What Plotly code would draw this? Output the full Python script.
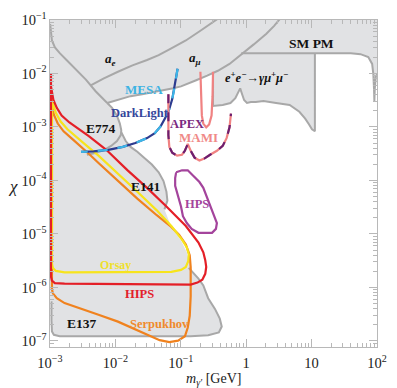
import numpy as np
import plotly.graph_objects as go

# ---------------- data: dark photon mass m [GeV] and kinetic mixing chi ----------------
# gray excluded regions (boundaries)
lineA_m = [1.005e-3, 1.035e-3, 1.07e-3, 1.19e-3, 1.41e-3, 1.79e-3, 2.52e-3, 3.54e-3, 4.98e-3, 6.33e-3, 7.5e-3]
lineA_chi = [8.45e-2, 5.55e-2, 4.14e-2, 3.08e-2, 2.40e-2, 1.79e-2, 1.17e-2, 7.7e-3, 4.66e-3, 3.47e-3, 2.81e-3]

e774_m = [7.5e-3, 8.9e-3, 1.056e-2, 1.17e-2, 1.23e-2, 1.21e-2, 1.056e-2, 8.6e-3, 6.78e-3, 5.15e-3, 3.66e-3]
e774_chi = [2.81e-3, 2.28e-3, 1.63e-3, 1.16e-3, 8.67e-4, 7.03e-4, 5.46e-4, 4.43e-4, 3.74e-4, 3.30e-4, 3.03e-4]

e141_m = [1.23e-2, 1.437e-2, 1.704e-2, 2.164e-2, 2.749e-2, 3.61e-2, 4.59e-2, 5.44e-2, 6.03e-2, 6.24e-2, 5.63e-2]
e141_chi = [7.97e-4, 5.46e-4, 4.24e-4, 3.44e-4, 2.67e-4, 1.99e-4, 1.42e-4, 9.75e-5, 6.14e-5, 4.21e-5, 2.88e-5]
e141_low_m = [7.16e-2, 0.1007, 0.1236, 0.1369]
e141_low_chi = [1.353e-5, 7.52e-6, 4.54e-6, 2.74e-6]

e137_m = [0.1323, 0.1517, 0.1862, 0.2209, 0.2620, 0.3329, 0.3948, 0.4228, 0.3816, 0.2620, 0.1416,
          1.407e-3, 1.146e-3, 1.071e-3, 1.053e-3, 1.053e-3]
e137_chi = [2.32e-6, 1.96e-6, 1.46e-6, 1.088e-6, 6.30e-7, 3.97e-7, 2.61e-7, 1.862e-7, 1.447e-7, 1.276e-7, 1.224e-7,
            1.224e-7, 1.303e-7, 1.51e-7, 2.40e-7, 5.55e-7]

amu_m = [7.5e-3, 1.093e-2, 1.704e-2, 2.567e-2, 3.87e-2, 5.63e-2, 7.66e-2, 0.1007, 0.1323, 0.1681, 0.2533,
         0.3688, 0.5556, 0.8663, 1.305, 2.035, 2.675, 3.28]
amu_chi = [2.81e-3, 3.19e-3, 3.77e-3, 4.10e-3, 4.46e-3, 4.86e-3, 5.28e-3, 5.74e-3, 6.51e-3, 7.39e-3, 9.12e-3,
           1.125e-2, 1.51e-2, 2.30e-2, 3.50e-2, 5.55e-2, 7.77e-2, 0.105]

ae_m = [4.196e-3, 6.55e-3, 1.093e-2, 1.824e-2, 3.05e-2, 4.59e-2, 7.16e-2, 0.1194, 0.1994, 0.3563, 0.3816]
ae_chi = [5.99e-3, 8.04e-3, 1.078e-2, 1.417e-2, 1.79e-2, 2.20e-2, 2.96e-2, 4.14e-2, 6.30e-2, 0.1, 0.1088]

babar_m = [0.311, 0.311, 0.4375, 0.575, 0.682, 0.755, 0.809, 0.866, 0.928, 1.028, 1.178, 1.398, 1.837,
           2.864, 4.62, 6.50, 7.98, 9.15, 10.14, 11.23, 11.23]
babar_chi = [1.034e-2, 2.48e-3, 2.585e-3, 2.81e-3, 3.47e-3, 4.46e-3, 5.28e-3, 4.10e-3, 3.19e-3, 2.81e-3,
             2.93e-3, 2.93e-3, 3.06e-3, 2.81e-3, 2.585e-3, 1.926e-3, 1.435e-3, 1.115e-3, 9.04e-4, 8.31e-4, 2.40e-2]

smpm_m = [0.84, 11.23, 39.8, 56.0, 73.5, 84.3, 88.0, 90.0, 91.2, 92.5, 96.0, 104.0]
smpm_chi = [2.40e-2, 2.40e-2, 2.40e-2, 2.30e-2, 2.03e-2, 1.51e-2, 9.51e-3, 5.28e-3, 3.06e-3, 5.28e-3, 8.74e-3, 1.034e-2]

# coloured projections / limits
hips_m = [1.035e-3, 1.035e-3, 1.071e-3, 1.186e-3, 1.669e-3, 1.538e-2, 0.1416, 0.1799, 0.2135, 0.2365, 0.2447,
          0.2365, 0.2209, 0.1862, 0.1194, 6.03e-2, 3.05e-2, 1.538e-2, 7.25e-3, 3.92e-3, 2.79e-3, 1.98e-3,
          1.507e-3, 1.27e-3, 1.127e-3, 1.071e-3, 1.035e-3]
hips_chi = [9.92e-3, 1.589e-6, 1.343e-6, 1.208e-6, 1.183e-6, 1.158e-6, 1.134e-6, 1.233e-6, 1.40e-6, 1.80e-6,
            2.416e-6, 3.24e-6, 4.54e-6, 6.91e-6, 1.411e-5, 3.27e-5, 7.27e-5, 1.548e-4, 3.74e-4, 6.74e-4,
            9.04e-4, 1.213e-3, 1.63e-3, 2.28e-3, 3.19e-3, 4.46e-3, 5.74e-3]

orsay_m = [1.071e-3, 1.071e-3, 1.108e-3, 1.227e-3, 1.669e-3, 1.538e-2, 7.16e-2, 0.1007, 0.1194, 0.1300, 0.1323,
           0.1236, 0.1042, 7.16e-2, 4.29e-2, 2.164e-2, 1.093e-2, 5.52e-3, 3.66e-3, 2.516e-3, 1.85e-3, 1.456e-3,
           1.227e-3, 1.127e-3, 1.071e-3]
orsay_chi = [3.47e-3, 2.74e-6, 2.32e-6, 2.04e-6, 1.918e-6, 1.918e-6, 1.96e-6, 2.131e-6, 2.416e-6, 3.11e-6,
             4.17e-6, 5.60e-6, 7.84e-6, 1.411e-5, 2.764e-5, 6.14e-5, 1.365e-4, 2.907e-4, 4.43e-4, 6.46e-4,
             9.04e-4, 1.265e-3, 1.846e-3, 2.585e-3, 3.47e-3]

serp_m = [1.071e-3, 1.146e-3, 1.314e-3, 1.613e-3, 2.12e-3, 2.79e-3, 3.92e-3, 5.52e-3, 1.093e-2, 2.164e-2,
          4.29e-2, 7.16e-2, 9.40e-2, 0.1194, 0.1369, 0.1416, 0.1416, 0.1369, 0.1278, 0.1156, 9.09e-2, 6.68e-2,
          4.75e-2, 2.40e-2, 1.093e-2, 5.52e-3, 3.09e-3, 1.669e-3, 1.27e-3, 1.108e-3, 1.071e-3, 1.071e-3]
serp_chi = [2.48e-3, 1.698e-3, 1.16e-3, 8.31e-4, 6.19e-4, 4.62e-4, 3.16e-4, 2.12e-4, 9.75e-5, 4.58e-5,
            2.24e-5, 1.353e-5, 9.67e-6, 6.35e-6, 4.00e-6, 2.416e-6, 6.85e-7, 2.957e-7, 1.786e-7, 1.224e-7,
            1.013e-7, 9.51e-8, 1.034e-7, 1.51e-7, 2.298e-7, 3.08e-7, 3.97e-7, 5.11e-7, 6.30e-7, 7.77e-7,
            9.19e-7, 2.48e-3]

darklight_m = [2.984e-3, 4.65e-3, 7.77e-3, 1.297e-2, 2.02e-2, 3.05e-2, 4.00e-2, 4.91e-2, 5.83e-2, 6.68e-2,
               7.40e-2, 7.93e-2, 8.49e-2, 8.93e-2]
darklight_chi = [3.44e-4, 3.51e-4, 3.74e-4, 4.24e-4, 5.02e-4, 6.19e-4, 7.64e-4, 1.026e-3, 1.497e-3, 2.185e-3,
                 3.32e-3, 5.06e-3, 8.04e-3, 1.224e-2]

apex_m = [6.46e-2, 6.46e-2, 6.46e-2, 6.46e-2, 6.68e-2, 7.40e-2, 8.78e-2, 0.1042, 0.1154, 0.1278, 0.1416,
          0.1624, 0.1927, 0.2286, 0.2805, 0.3563, 0.4375, 0.5015, 0.5556, 0.585]
apex_chi = [4.10e-3, 2.48e-3, 1.319e-3, 7.03e-4, 4.24e-4, 3.30e-4, 2.907e-4, 3.03e-4, 3.59e-4, 4.81e-4,
            3.59e-4, 2.67e-4, 2.36e-4, 2.56e-4, 3.03e-4, 3.59e-4, 4.43e-4, 6.19e-4, 9.83e-4, 1.77e-3]

mami_m = [0.1994, 0.2028, 0.2099, 0.2209, 0.2447, 0.2711, 0.2953, 0.3056, 0.311]
mami_chi = [1.078e-2, 3.77e-3, 1.63e-3, 1.16e-3, 9.83e-4, 1.115e-3, 1.63e-3, 3.77e-3, 1.078e-2]

hps_m = [8.49e-2, 0.1042, 0.1278, 0.157, 0.1927, 0.2209, 0.2447, 0.2805, 0.3217, 0.3563, 0.3444, 0.3004,
         0.1862, 0.1466, 0.1236, 0.1078, 0.1007, 0.0909, 0.082, 0.082, 8.49e-2]
hps_chi = [1.42e-4, 1.548e-4, 1.548e-4, 1.203e-4, 9.35e-5, 7.27e-5, 5.19e-5, 3.41e-5, 2.24e-5, 1.601e-5,
           1.244e-5, 1.052e-5, 1.052e-5, 1.244e-5, 1.601e-5, 2.148e-5, 3.27e-5, 4.98e-5, 7.91e-5, 1.106e-4, 1.42e-4]

# labels
label_text = ["<i>a</i><sub><i>e</i></sub>", "<i>a</i><sub><i>μ</i></sub>", "SM PM",
              "<i>e</i><sup>+</sup><i>e</i><sup>−</sup>→<i>γμ</i><sup>+</sup><i>μ</i><sup>−</sup>",
              "MESA", "DarkLight", "E774", "APEX", "MAMI", "E141", "HPS", "Orsay", "HIPS", "Serpukhov", "E137"]
label_m = [8.32e-3, 0.1624, 10.14, 1.446, 2.749e-2, 2.40e-2, 6.12e-3, 0.1236, 0.1862, 2.944e-2, 0.174,
           9.86e-3, 2.317e-2, 4.75e-2, 3.09e-3]
label_chi = [1.79e-2, 1.94e-2, 3.65e-2, 8.74e-3, 5.06e-3, 1.846e-3, 9.43e-4, 1.115e-3, 6.46e-4, 7.58e-5,
             3.56e-5, 2.63e-6, 7.45e-7, 2.11e-7, 2.11e-7]
label_color = ["#111111", "#111111", "#111111", "#111111", "#3db3e3", "#35469b", "#111111", "#7a2a80",
               "#f08a88", "#111111", "#a4449c", "#efe02a", "#e3202a", "#ef8a2c", "#111111"]
label_size = [13, 13, 13.5, 12.5, 13, 12.5, 13.5, 12.5, 13, 13.5, 12.5, 12, 12.5, 12.5, 13.5]

# ---------------- figure ----------------
GRAY_FILL = "#e1e2e4"
GRAY_LINE = "#a8a8a8"

fig = go.Figure()


def add_fill(xs, ys):
    fig.add_trace(go.Scatter(x=xs, y=ys, mode="lines", fill="toself", fillcolor=GRAY_FILL,
                             line=dict(width=0, color=GRAY_FILL), hoverinfo="skip", showlegend=False))


def add_line(xs, ys, color, width=2.2, dash=None):
    fig.add_trace(go.Scatter(x=xs, y=ys, mode="lines",
                             line=dict(color=color, width=width, dash=dash),
                             hoverinfo="skip", showlegend=False))


# upper gray polygon (a_e, a_mu, BaBar, SM PM)
amu_left = [(m, c) for m, c in zip(amu_m, amu_chi) if m < babar_m[0]]
up_x = [8e-4, 130, 130] + smpm_m[:0:-1] + babar_m[::-1] + [p[0] for p in amu_left[::-1]] + lineA_m[::-1] + [8e-4]
up_y = [0.13, 0.13, smpm_chi[-1]] + smpm_chi[:0:-1] + babar_chi[::-1] + [p[1] for p in amu_left[::-1]] + lineA_chi[::-1] + [lineA_chi[0]]
add_fill(up_x, up_y)

# lower gray polygon (E774, E141, E137)
lo_x = [8e-4] + lineA_m + e774_m[1:5] + e141_m + e141_low_m + e137_m[1:] + [8e-4]
lo_y = [lineA_chi[0]] + lineA_chi + e774_chi[1:5] + e141_chi + e141_low_chi + e137_chi[1:] + [e137_chi[-1]]
add_fill(lo_x, lo_y)

# gray boundaries
for xs, ys in [(lineA_m, lineA_chi), (e774_m, e774_chi), (e141_m, e141_chi), (e137_m, e137_chi),
               (amu_m, amu_chi), (ae_m, ae_chi), (babar_m, babar_chi), (smpm_m, smpm_chi)]:
    add_line(xs, ys, GRAY_LINE, width=2)

# coloured curves
add_line(serp_m, serp_chi, "#f0821e")
add_line(orsay_m, orsay_chi, "#f7e41c")
add_line(hips_m, hips_chi, "#e41f27")
add_line(darklight_m, darklight_chi, "#2d3b8f")
add_line(darklight_m[::-1], darklight_chi[::-1], "#3cb6e8", dash="10px,10px")
add_line(mami_m, mami_chi, "#f08282")
add_line(apex_m, apex_chi, "#f08282")
add_line(apex_m, apex_chi, "#6c1f70", dash="9px,9px")
add_line(hps_m, hps_chi, "#a4449c")

for t, m, c, col, s in zip(label_text, label_m, label_chi, label_color, label_size):
    italic = "<i>" in t
    fig.add_annotation(x=np.log10(m), y=np.log10(c), xref="x", yref="y", text=t, showarrow=False,
                       xanchor="center", yanchor="middle",
                       font=dict(family="Liberation Serif", size=s, color=col, weight="bold",
                                 style="italic" if italic else "normal"))

# axis titles
fig.add_annotation(x=0.5, y=-0.1, xref="paper", yref="paper", showarrow=False, xanchor="center", yanchor="middle",
                   text="<i>m</i><sub><i>γ′</i></sub> [GeV]",
                   font=dict(family="Liberation Serif", size=14, color="#222222"))
fig.add_annotation(x=-0.113, y=0.49, xref="paper", yref="paper", showarrow=False, xanchor="center", yanchor="middle",
                   text="<i>χ</i>", font=dict(family="Liberation Serif", size=17, color="#222222"))

AX_COL = "#b8b8b8"
axis_common = dict(type="log", dtick=1, exponentformat="power", ticks="inside", ticklen=8, tickwidth=1,
                   tickcolor=AX_COL, showline=True, linecolor=AX_COL, linewidth=1, mirror="ticks",
                   showgrid=False, zeroline=False, ticklabeloverflow="allow",
                   tickfont=dict(family="Liberation Serif", size=11.6, color="#222222"),
                   minor=dict(ticks="inside", ticklen=4, dtick="D1", tickcolor=AX_COL, tickwidth=1, showgrid=False))
fig.update_xaxes(range=[-3, 2], ticklabelstandoff=3, **axis_common)
fig.update_yaxes(range=[-7.113, -1], **axis_common)

fig.update_layout(width=397, height=388, margin=dict(l=50, r=10, t=12, b=41),
                  paper_bgcolor="white", plot_bgcolor="white", showlegend=False,
                  font=dict(family="Liberation Serif", color="#222222"))

fig.write_html("out.html")
